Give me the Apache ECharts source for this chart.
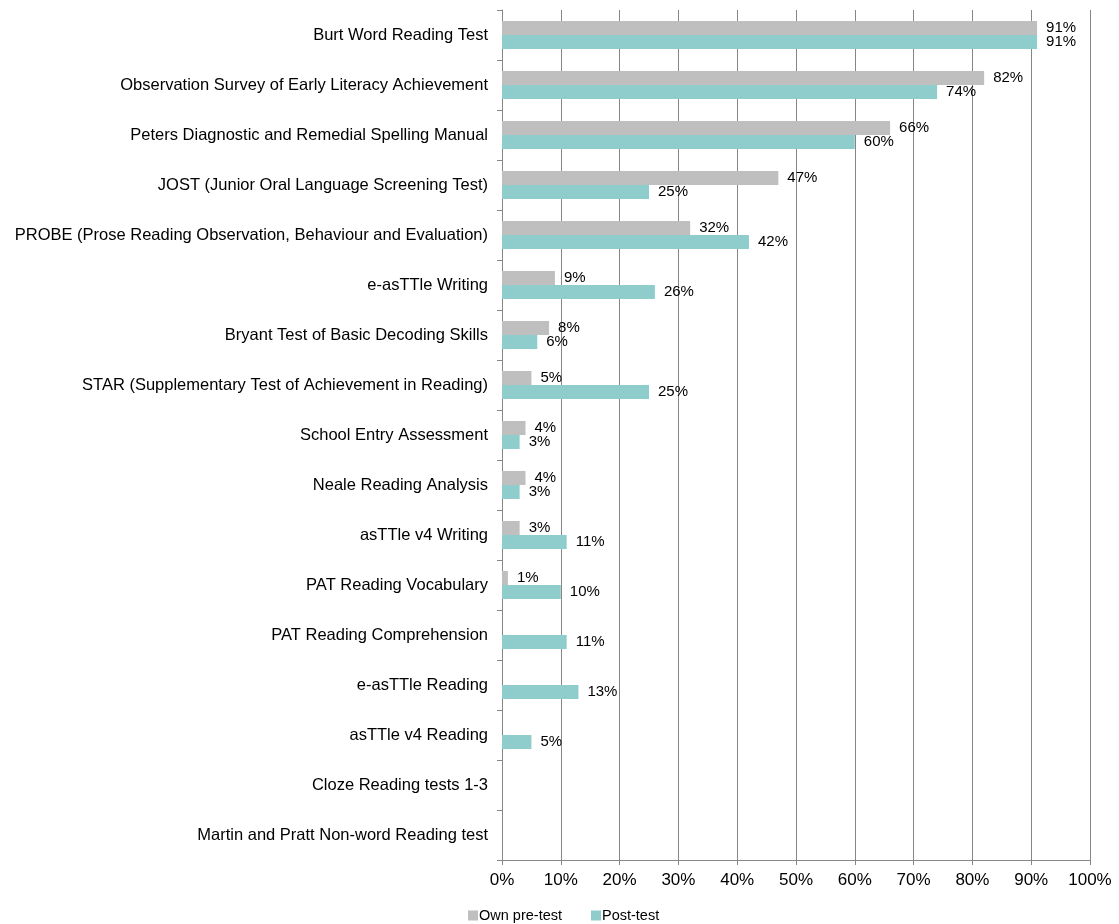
<!DOCTYPE html>
<html>
<head>
<meta charset="utf-8">
<script src="https://cdn.jsdelivr.net/npm/echarts@6/dist/echarts.min.js"></script>
<style>
  html, body { margin: 0; padding: 0; background: #fff; }
  #chart { width: 1119px; height: 924px; }
</style>
</head>
<body>
<div id="chart"></div>
<script>
// test names, top to bottom
const tests = [
    'Burt Word Reading Test',
    'Observation Survey of Early Literacy Achievement',
    'Peters Diagnostic and Remedial Spelling Manual',
    'JOST (Junior Oral Language Screening Test)',
    'PROBE (Prose Reading Observation, Behaviour and Evaluation)',
    'e-asTTle Writing',
    'Bryant Test of Basic Decoding Skills',
    'STAR (Supplementary Test of Achievement in Reading)',
    'School Entry Assessment',
    'Neale Reading Analysis',
    'asTTle v4 Writing',
    'PAT Reading Vocabulary',
    'PAT Reading Comprehension',
    'e-asTTle Reading',
    'asTTle v4 Reading',
    'Cloze Reading tests 1-3',
    'Martin and Pratt Non-word Reading test'
];
// percentages, null = no bar
const ownPreTest = [91, 82, 66, 47, 32, 9, 8, 5, 4, 4, 3, 1, null, null, null, null, null];
const postTest = [91, 74, 60, 25, 42, 26, 6, 25, 3, 3, 11, 10, 11, 13, 5, null, null];

const FONT = 'Liberation Sans, Arial, sans-serif';

var myChart = echarts.init(document.getElementById('chart'));

const label = {
    show: true,
    position: 'right',
    distance: 9,
    color: '#000',
    fontSize: 15,
    fontFamily: FONT,
    formatter: p => p.value == null ? '' : p.value + '%'
};

myChart.setOption({
    animation: false,
    grid: { left: 502, right: 29, top: 10, bottom: 64, containLabel: false },
    legend: {
        left: 463,
        top: 903,
        itemWidth: 10,
        itemHeight: 10,
        itemGap: 29,
        icon: 'rect',
        textStyle: { fontSize: 14.5, fontFamily: FONT, color: '#000', padding: [0, 0, 0, -4] },
        data: ['Own pre-test', 'Post-test']
    },
    xAxis: {
        type: 'value',
        min: 0,
        max: 100,
        interval: 10,
        axisLine: { show: true, lineStyle: { color: '#868686' } },
        axisTick: { show: true, length: 5, lineStyle: { color: '#868686' } },
        splitLine: { show: true, lineStyle: { color: '#868686', width: 1 } },
        axisLabel: { formatter: '{value}%', fontSize: 17, fontFamily: FONT, color: '#000', margin: 12 }
    },
    yAxis: {
        type: 'category',
        inverse: true,
        data: tests,
        axisLine: { show: true, lineStyle: { color: '#868686' } },
        axisTick: { show: true, length: 5, lineStyle: { color: '#868686' } },
        axisLabel: { fontSize: 16.5, fontFamily: FONT, color: '#000', margin: 14 }
    },
    series: [
        {
            name: 'Own pre-test',
            type: 'bar',
            data: ownPreTest,
            barWidth: 14,
            barGap: '0%',
            itemStyle: { color: '#BFBFBF' },
            label: label
        },
        {
            name: 'Post-test',
            type: 'bar',
            data: postTest,
            barWidth: 14,
            barGap: '0%',
            itemStyle: { color: '#8ECDCB' },
            label: label
        }
    ]
});
</script>
</body>
</html>
